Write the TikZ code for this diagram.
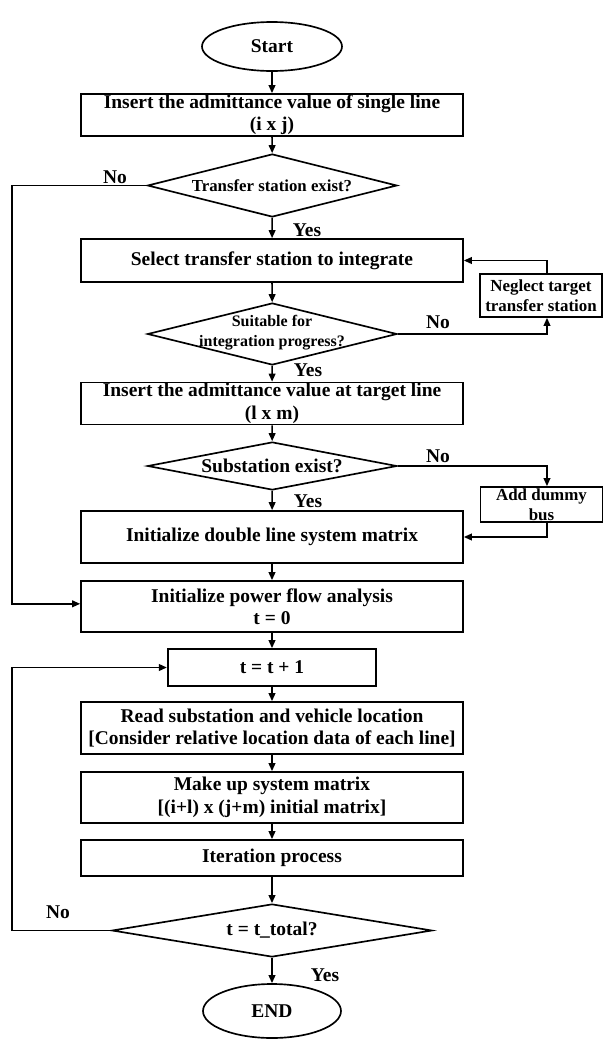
\documentclass[tikz,border=0pt]{standalone}
\usepackage{fontspec}
\setmainfont{Liberation Serif}
\usetikzlibrary{shapes.geometric,arrows.meta}

\begin{document}
\begin{tikzpicture}[x=0.75pt,y=-0.75pt,
  bigfont/.style={font=\fontsize{14.6}{16.8}\selectfont\bfseries},
  smallfont/.style={font=\fontsize{12.7}{15}\selectfont\bfseries},
  proc/.style={draw, line width=1.25pt, rectangle, inner sep=0pt, align=center, bigfont, minimum width=286.5pt},
  side/.style={draw, line width=1.25pt, rectangle, inner sep=0pt, align=center, smallfont, minimum width=91.5pt},
  term/.style={draw, line width=1.25pt, ellipse, inner sep=0pt, bigfont},
  dia/.style={draw, line width=1.25pt, diamond, inner sep=0pt, minimum width=187.1pt},
  dtext/.style={inner sep=0pt, align=center},
  lbl/.style={inner sep=0pt, bigfont},
  arr/.style={line width=1.25pt, -{Triangle[length=6pt,width=5pt]}}]

\fill[white] (0,0) rectangle (604,1039);
\useasboundingbox (0,0) rectangle (604,1039);

% main column
\node[term, minimum width=105pt, minimum height=36.75pt] (start) at (272,46.5) {Start};
\node[proc, minimum height=31.5pt] (b1) at (272,115) {Insert the admittance value of single line\\(i x j)};
\node[dia, minimum height=47.25pt] (d1) at (272.25,185.5) {};
\node[dtext, font=\fontsize{12.6}{15}\selectfont\bfseries] (d1t) at (272,186) {Transfer station exist?};
\node[proc, minimum height=32.25pt] (b2) at (272,260.5) {Select transfer station to integrate};
\node[dia, minimum height=46.5pt] (d2) at (272.25,334) {};
\node[dtext, font=\fontsize{12}{15}\selectfont\bfseries] (d2t) at (272,333) {Suitable for\\integration progress?};
\node[proc, minimum height=31.5pt] (b3) at (272,403.5) {Insert the admittance value at target line\\(l x m)};
\node[dia, minimum height=36pt] (d3) at (272.25,466) {};
\node[dtext, bigfont] (d3t) at (272,466) {Substation exist?};
\node[proc, minimum height=39pt] (b4) at (272,537) {Initialize double line system matrix};
\node[proc, minimum height=38.25pt] (b5) at (272,606.5) {Initialize power flow analysis\\t = 0};
\node[proc, minimum width=156.4pt, minimum height=27.75pt] (tb) at (272,667.5) {t = t + 1};
\node[proc, minimum height=39pt] (b6) at (272,728) {Read substation and vehicle location\\{[}Consider relative location data of each line{]}};
\node[proc, minimum height=38.25pt] (b7) at (272,797.5) {Make up system matrix\\{[}(i+l) x (j+m) initial matrix{]}};
\node[proc, minimum height=27pt] (b8) at (272,858) {Iteration process};
\node[dia, minimum width=240pt, minimum height=39.75pt] (d4) at (272,930.5) {};
\node[dtext, bigfont] (d4t) at (272,930.5) {t = t\_total?};
\node[term, minimum width=103.5pt, minimum height=40.5pt] (end) at (272,1011) {END};

% side boxes
\node[side, minimum height=32.25pt] (neg) at (541,295.5) {Neglect target\\transfer station};
\node[side, minimum height=26.25pt] (add) at (541.5,504.5) {Add dummy\\bus};

% left return rail
\coordinate (lx) at (12,0);

% straight flow
\draw[arr] (start) -- (b1);
\draw[arr] (b1) -- (d1);
\draw[arr] (d1) -- (b2);
\draw[arr] (b2) -- (d2);
\draw[arr] (d2) -- (b3);
\draw[arr] (b3) -- (d3);
\draw[arr] (d3) -- (b4);
\draw[arr] (b4) -- (b5);
\draw[arr] (b5) -- (tb);
\draw[arr] (tb) -- (b6);
\draw[arr] (b6) -- (b7);
\draw[arr] (b7) -- (b8);
\draw[arr] (b8) -- (d4);
\draw[arr] (d4) -- (end);

% branches to the right
\draw[arr] (d2.east) -| ([xshift=4.5pt]neg.south);
\draw[arr] ([xshift=4.5pt]neg.north) |- (b2.east);
\draw[arr] (d3.east) -| ([xshift=4.1pt]add.north);
\draw[arr] ([xshift=4.1pt]add.south) |- (b4.east);

% branches to the left
\draw[arr] (d1.west) -- (d1.west -| lx) -- ([yshift=2pt]b5.west -| lx) -- ([yshift=2pt]b5.west);
\draw[arr] (d4.west) -- (d4.west -| lx) -- (tb.west -| lx) -- (tb.west);

% decision labels
\node[lbl] (no1) at (115,177) {No};
\node[lbl] (yes1) at (307,230) {Yes};
\node[lbl] (no2) at (438,322) {No};
\node[lbl] (yes2) at (308,370) {Yes};
\node[lbl] (no3) at (438,456) {No};
\node[lbl] (yes3) at (308,501) {Yes};
\node[lbl] (no4) at (58,912) {No};
\node[lbl] (yes4) at (325,975) {Yes};
\end{tikzpicture}
\end{document}
